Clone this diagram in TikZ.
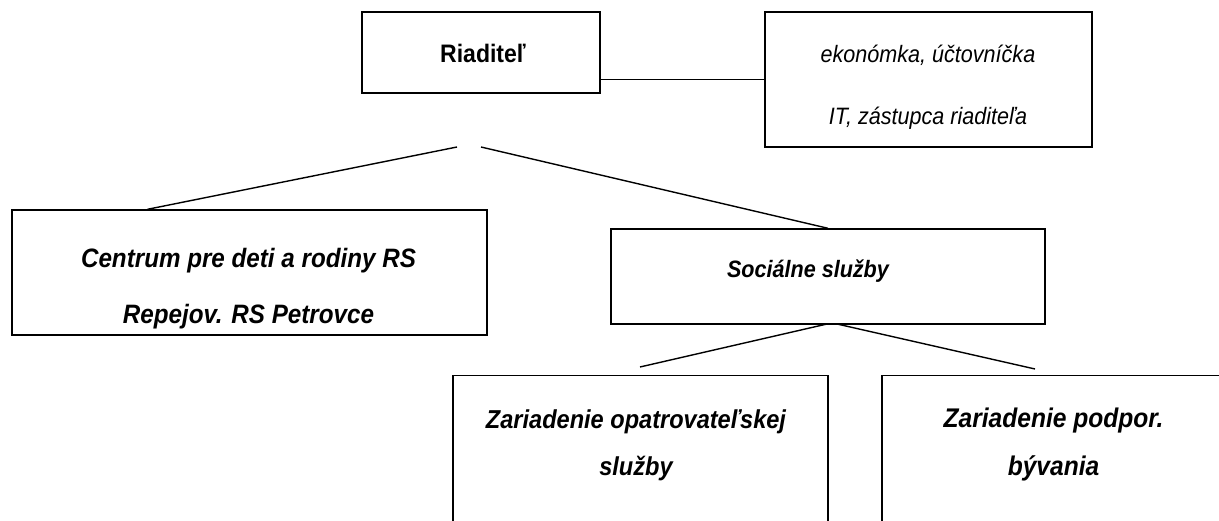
\documentclass[tikz,border=0pt]{standalone}
\usepackage{fontspec}
\setmainfont{Liberation Sans}[FakeStretch=0.91]
\usetikzlibrary{positioning,calc}

\begin{document}
\begin{tikzpicture}[x=1pt,y=-1pt,
    box/.style={draw,line width=1.4pt,inner sep=0pt},
    hlava/.style={font=\fontsize{25.3}{30}\selectfont\bfseries},
    nadpis/.style 2 args={font=\fontsize{#1}{#2}\selectfont\bfseries\itshape,align=center},
    popis/.style={font=\fontsize{23.7}{62}\selectfont\itshape,align=center},
    spoj/.style={line width=1.4pt}]
    \clip (0,0) rectangle (1219,521);

    % Riaditel a pracovnici
    \node[box,minimum width=238pt,minimum height=81pt] (riad) at (481,52.5) {};
    \node[hlava,anchor=base] (riadT) at (483,63) {Riaditeľ};
    \node[box,minimum width=327pt,minimum height=135pt] (staff) at (928.5,79.5) {};
    \node[popis] (staffT) at (928,87.5) {ekonómka, účtovníčka\\IT, zástupca riaditeľa};
    \draw[spoj] (riad.east |- staff.west) -- (staff.west);

    % Centrum a socialne sluzby
    \node[box,minimum width=475pt,minimum height=125pt] (centrum) at (249.5,272.5) {};
    \node[nadpis={26.6}{56}] (centrumT) at (248.5,288.5) {Centrum pre deti a rodiny RS\\Repejov. RS Petrovce};
    \node[box,minimum width=434pt,minimum height=95pt] (social) at (828,276.5) {};
    \node[nadpis={23.7}{28},anchor=base] (socialT) at (808,278) {Sociálne služby};

    % Zariadenia (dole orezane)
    \node[box,minimum width=375pt,minimum height=200pt,anchor=north] (zos) at (640.5,375) {};
    \node[nadpis={25.9}{47}] (zosT) at (636,445) {Zariadenie opatrovateľskej\\služby};
    \node[box,minimum width=343pt,minimum height=200pt,anchor=north] (zpb) at (1053.5,375) {};
    \node[nadpis={27}{48}] (zpbT) at (1053.5,445) {Zariadenie podpor.\\bývania};

    % Spojnice
    \coordinate (rL) at (457,147);
    \coordinate (rR) at (481,147);
    \draw[spoj] (rL) -- ($(centrum.north west)!0.286!(centrum.north east)$);
    \draw[spoj] (rR) -- (social.north);
    \coordinate (sL) at (827,324);
    \coordinate (sR) at (837,324);
    \coordinate (zL) at (640,367);
    \coordinate (zR) at (1035,369);
    \draw[spoj] (sL) -- (zL);
    \draw[spoj] (sR) -- (zR);
\end{tikzpicture}
\end{document}
